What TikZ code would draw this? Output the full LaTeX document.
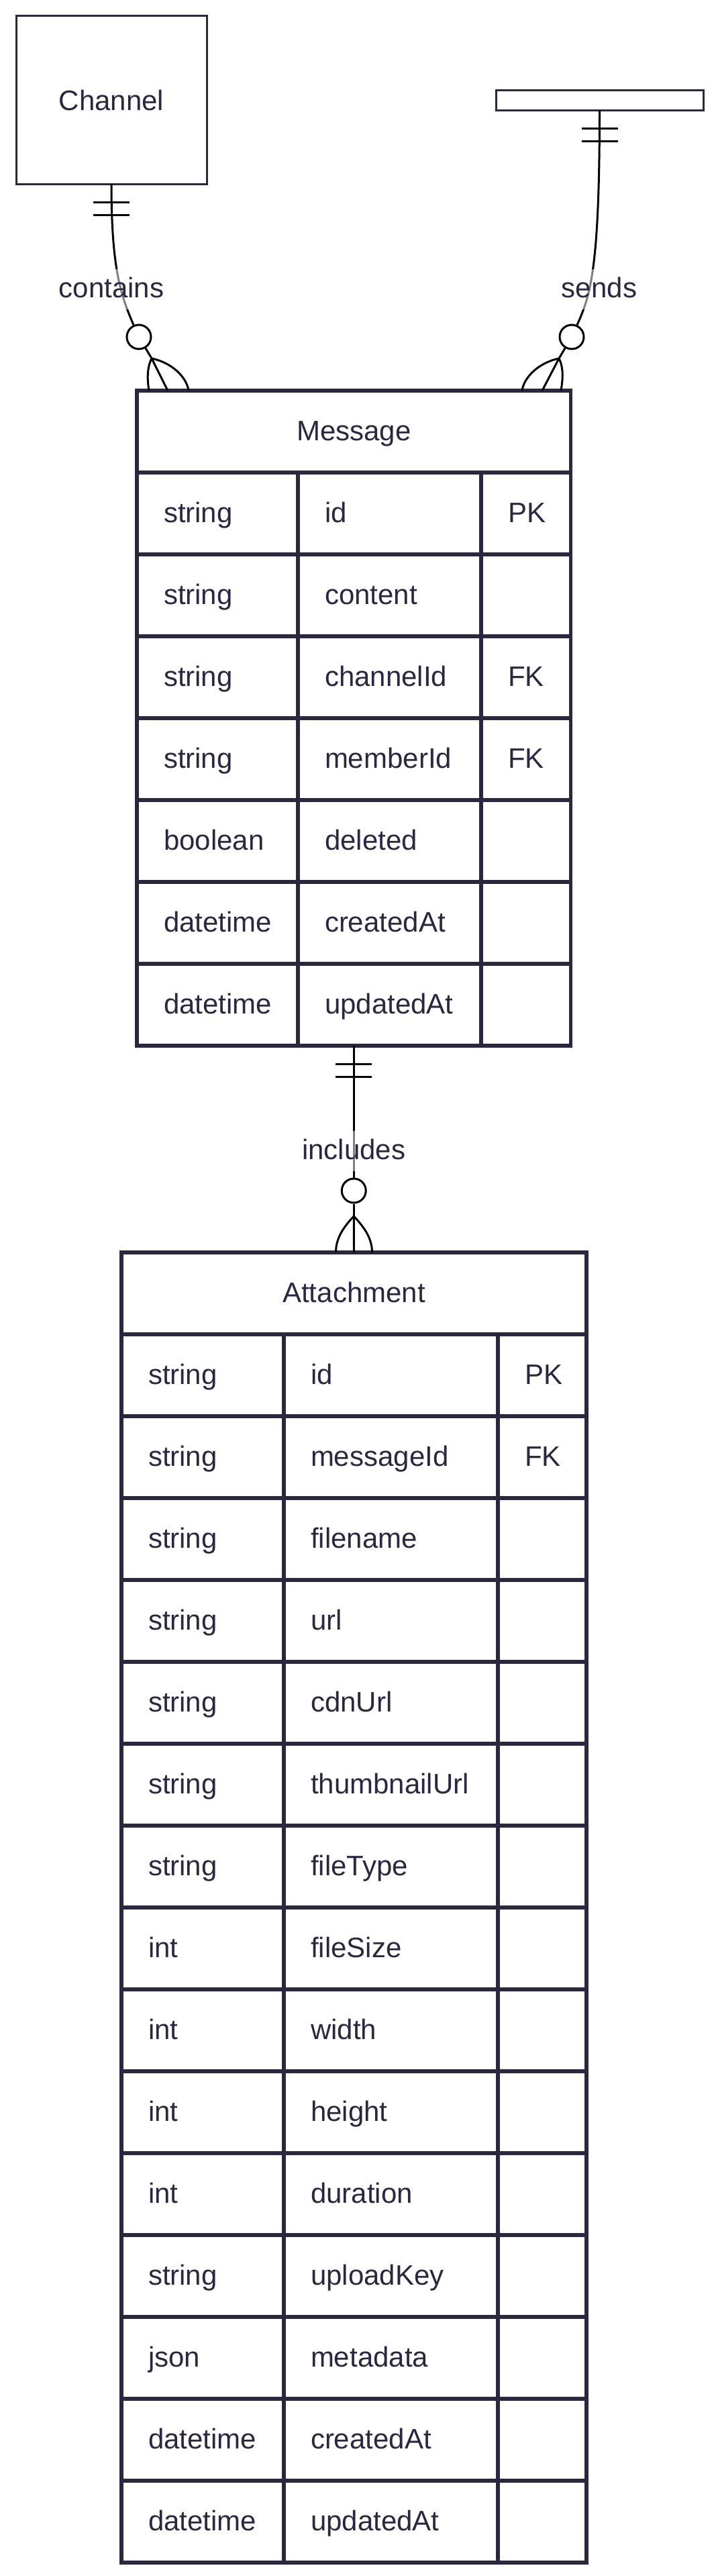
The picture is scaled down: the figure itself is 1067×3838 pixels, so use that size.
\documentclass[tikz,border=0pt]{standalone}
\usepackage{fontspec}
\setmainfont{Liberation Sans}
\usetikzlibrary{positioning,calc}
\definecolor{erline}{HTML}{2A2840}

\begin{document}
\begin{tikzpicture}[x=1pt,y=-1pt,font=\fontsize{42}{50}\selectfont,
  rel line/.style={draw=black,line width=3pt},
  entity box/.style={draw=erline,line width=3pt,fill=white,text=erline,outer sep=0pt,anchor=north west},
  head cell/.style={draw=erline,line width=5.5pt,text=erline,outer sep=0pt,inner sep=0pt,
    anchor=north west,minimum height=122pt,text height=30pt,text depth=4pt},
  attr cell/.style={draw=erline,line width=5.5pt,text=erline,outer sep=0pt,inner xsep=40pt,inner ysep=0pt,
    anchor=north west,minimum height=122pt,align=left,text width=#1,text height=30pt,text depth=4pt},
  zero mark/.style={circle,draw=black,line width=3pt,fill=white,minimum size=36pt,inner sep=0pt},
  rel label/.style={fill=white,fill opacity=0.5,text opacity=1,text=erline,inner xsep=4pt,inner ysep=12pt,
    text height=30pt,text depth=6pt,anchor=base}]
   \path[use as bounding box,fill=white] (0,0) rectangle (1067,3838);

   \node[entity box,minimum width=284pt,minimum height=250pt] (channel) at (24,24) {Channel};
   \node[entity box,minimum width=309pt,minimum height=30pt,inner sep=0pt] (sender) at (739,134) {};

   % Message
   \node[head cell,minimum width=646.5pt] (msg) at (204,582) {Message};
   \foreach \ty/\fn/\ky [count=\i] in {string/id/PK, string/content/{}, string/channelId/FK,
       string/memberId/FK, boolean/deleted/{}, datetime/createdAt/{}, datetime/updatedAt/{}}{
     \node[attr cell=160pt]  (mt\i) at (204,{582+122*\i}) {\ty};
     \node[attr cell=193pt]  (mf\i) at (444,{582+122*\i}) {\fn};
     \node[attr cell=53.5pt] (mk\i) at (717,{582+122*\i}) {\ky};
   }

   % Attachment
   \node[head cell,minimum width=693pt] (att) at (181,1866) {Attachment};
   \foreach \ty/\fn/\ky [count=\i] in {string/id/PK, string/messageId/FK, string/filename/{},
       string/url/{}, string/cdnUrl/{}, string/thumbnailUrl/{}, string/fileType/{}, int/fileSize/{},
       int/width/{}, int/height/{}, int/duration/{}, string/uploadKey/{}, json/metadata/{},
       datetime/createdAt/{}, datetime/updatedAt/{}}{
     \node[attr cell=162pt] (at\i) at (181,{1866+122*\i}) {\ty};
     \node[attr cell=239pt] (af\i) at (423,{1866+122*\i}) {\fn};
     \node[attr cell=52pt]  (ak\i) at (742,{1866+122*\i}) {\ky};
   }

   \node[zero mark] (o1) at (207,502) {};
   \node[zero mark] (o2) at (852,502) {};
   \node[zero mark] (o3) at (527.25,1774) {};
   \coordinate (f1) at (226,534);
   \coordinate (f2) at (833,534);
   \coordinate (f3) at (527.25,1812);
   \coordinate (m0) at (msg.north |- mt7.south);

   % Channel -- Message
   \draw[rel line] (channel.south) .. controls ($(channel.south)+(0,126)$) and ($(o1)+(-27,-62)$) .. (o1.114);
   \draw[rel line] ($(channel.south)+(-27,27)$) -- ++(54,0);
   \draw[rel line] ($(channel.south)+(-27,46)$) -- ++(54,0);
   \draw[rel line] (o1) -- (f1);
   \draw[rel line] (f1) -- ($(msg.north west)+(46,0)$);
   \draw[rel line] (f1) .. controls ($(f1)+(-8,16)$) and ($(msg.north west)+(16,-13)$) .. ($(msg.north west)+(18,0)$);
   \draw[rel line] (f1) .. controls ($(f1)+(29,6)$) and ($(msg.north west)+(74,-21)$) .. ($(msg.north west)+(77,0)$);
   \node[rel label] (lc) at (166,443) {contains};

   % sender -- Message
   \draw[rel line] (sender.south) .. controls ($(sender.south)+(0,236)$) and ($(o2)+(28,-62)$) .. (o2.66);
   \draw[rel line] ($(sender.south)+(-27,27)$) -- ++(54,0);
   \draw[rel line] ($(sender.south)+(-27,46)$) -- ++(54,0);
   \draw[rel line] (o2) -- (f2);
   \draw[rel line] (f2) -- ($(msg.north east)+(-42.5,0)$);
   \draw[rel line] (f2) .. controls ($(f2)+(8,16)$) and ($(msg.north east)+(-12.5,-13)$) .. ($(msg.north east)+(-14.5,0)$);
   \draw[rel line] (f2) .. controls ($(f2)+(-29,6)$) and ($(msg.north east)+(-69.5,-21)$) .. ($(msg.north east)+(-72.5,0)$);
   \node[rel label] (ls) at (893,443) {sends};

   % Message -- Attachment
   \draw[rel line] (m0) -- (o3);
   \draw[rel line] ($(m0)+(-27,27)$) -- ++(54,0);
   \draw[rel line] ($(m0)+(-27,46)$) -- ++(54,0);
   \draw[rel line] (o3) -- (f3);
   \draw[rel line] (f3) -- (att.north);
   \draw[rel line] (f3) .. controls ($(f3)+(-17,18)$) and ($(att.north)+(-27,-20)$) .. ($(att.north)+(-27,0)$);
   \draw[rel line] (f3) .. controls ($(f3)+(17,18)$) and ($(att.north)+(27,-20)$) .. ($(att.north)+(27,0)$);
   \node[rel label] (li) at (527.25,1727) {includes};
\end{tikzpicture}
\end{document}
